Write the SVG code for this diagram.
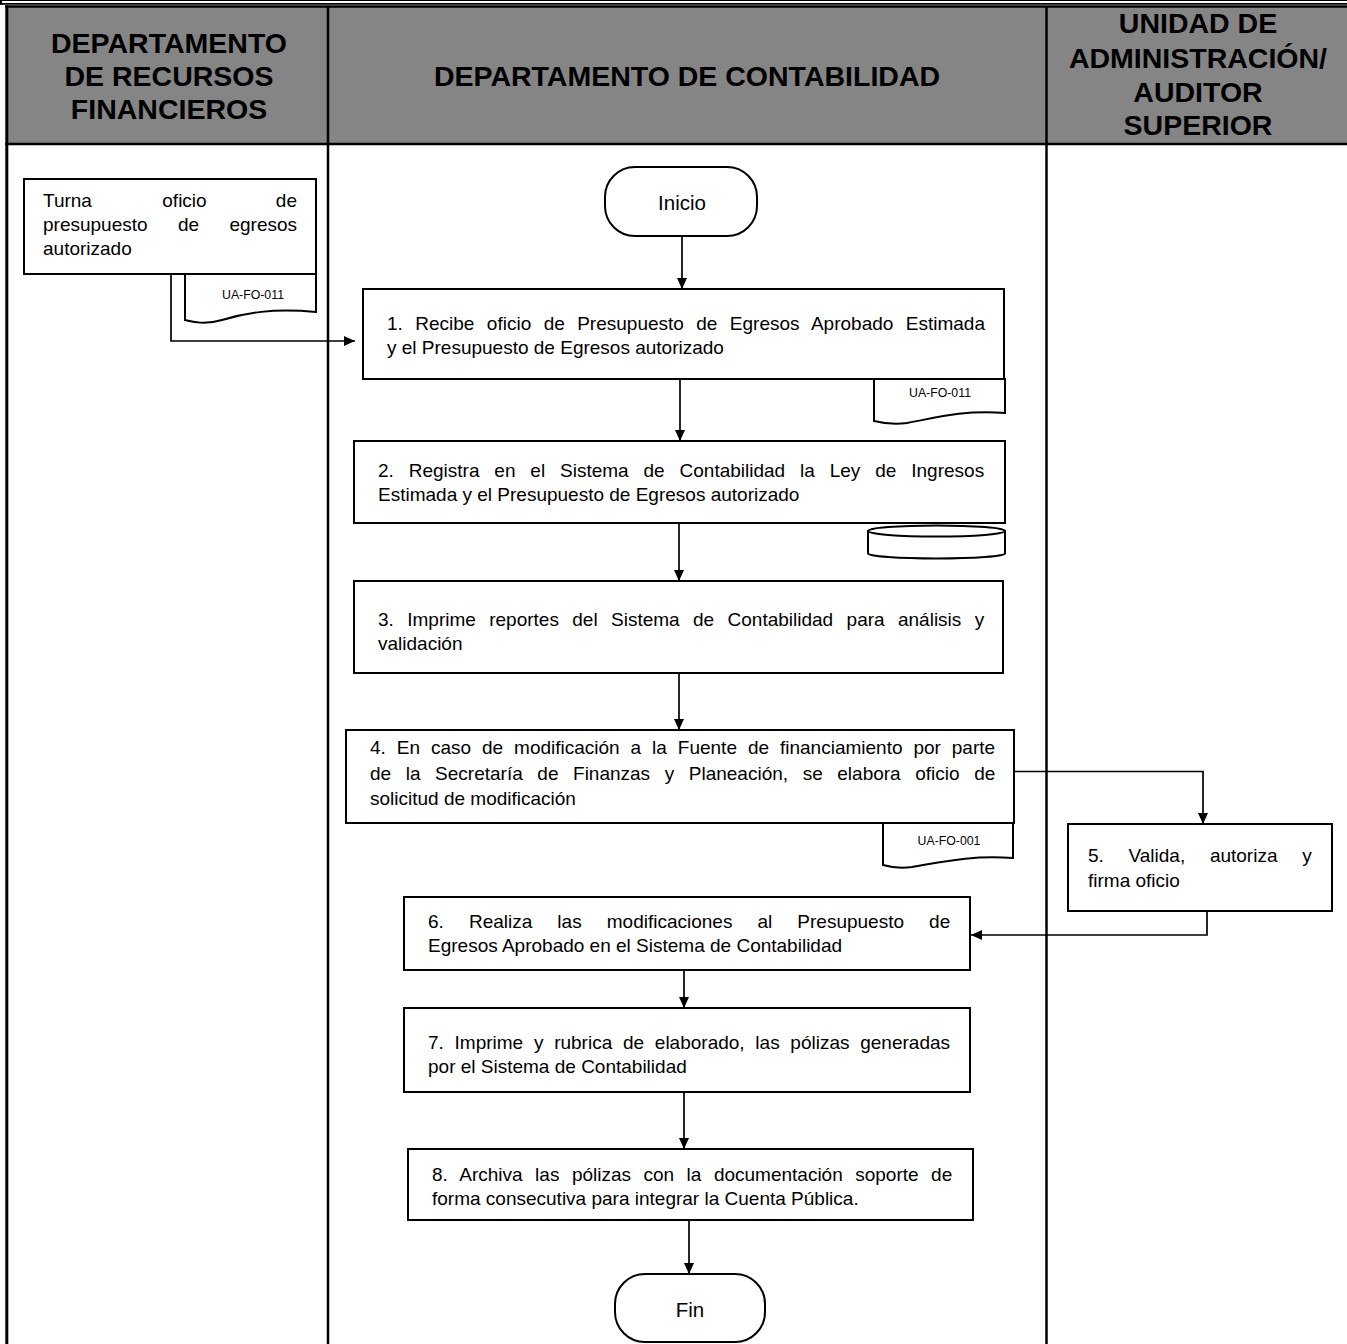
<svg xmlns="http://www.w3.org/2000/svg" width="1347" height="1344" viewBox="0 0 1347 1344">
  <defs>
    <marker id="arrow" markerUnits="userSpaceOnUse" markerWidth="11" markerHeight="10" refX="11" refY="5" orient="auto">
      <path d="M0,0 L11,5 L0,10 Z" fill="#000"/>
    </marker>
    <style>
      .lane { stroke: #000; stroke-width: 2.5; fill: none; }
      .hdrfill { fill: #858585; }
      .hdr { font-family: "Liberation Sans", Arial, sans-serif; font-weight: bold; font-size: 28.5px; fill: #000; text-anchor: middle; }
      .box { fill: #fff; stroke: #000; stroke-width: 2; }
      .t { font-family: "Liberation Sans", Arial, sans-serif; font-size: 19px; fill: #000; }
      .term { font-family: "Liberation Sans", Arial, sans-serif; font-size: 20.5px; fill: #000; text-anchor: middle; }
      .doc { font-family: "Liberation Sans", Arial, sans-serif; font-size: 12.3px; fill: #000; text-anchor: middle; }
      .conn { fill: none; stroke: #000; stroke-width: 1.7; }
      .arr { marker-end: url(#arrow); }
    </style>
  </defs>

  <rect width="1347" height="1344" fill="#fff"/>

  <!-- page frame rules at the top -->
  <line x1="0" y1="0.5" x2="1347" y2="0.5" stroke="#000" stroke-width="1"/>
  <line x1="0" y1="3.8" x2="1347" y2="3.8" stroke="#000" stroke-width="1.8"/>
  <line x1="1" y1="0" x2="1" y2="4.5" stroke="#000" stroke-width="2"/>

  <!-- swimlane header band -->
  <g id="lanes">
    <rect class="hdrfill" x="6.5" y="6.5" width="1342" height="137.5"/>
    <line class="lane" x1="5" y1="6.5" x2="1347" y2="6.5"/>
    <line class="lane" x1="5" y1="144" x2="1347" y2="144"/>
    <line class="lane" x1="6.8" y1="5.5" x2="6.8" y2="1344" style="stroke-width:3"/>
    <line class="lane" x1="328" y1="6" x2="328" y2="1344"/>
    <line class="lane" x1="1046.5" y1="6" x2="1046.5" y2="1344"/>

    <text class="hdr" x="169" y="52.5">DEPARTAMENTO</text>
    <text class="hdr" x="169" y="85.5">DE RECURSOS</text>
    <text class="hdr" x="169" y="118.5">FINANCIEROS</text>

    <text class="hdr" x="687" y="86">DEPARTAMENTO DE CONTABILIDAD</text>

    <text class="hdr" x="1198" y="33.3">UNIDAD DE</text>
    <text class="hdr" x="1198" y="68.3">ADMINISTRACIÓN/</text>
    <text class="hdr" x="1198" y="101.7">AUDITOR</text>
    <text class="hdr" x="1198" y="135">SUPERIOR</text>
  </g>

  <!-- connectors -->
  <g id="connectors">
    <path class="conn arr" d="M171,274 V341 H355"/>
    <path class="conn arr" d="M682,236 V289"/>
    <path class="conn arr" d="M680,379 V441"/>
    <path class="conn arr" d="M679,523 V581"/>
    <path class="conn arr" d="M679,673 V730"/>
    <path class="conn arr" d="M1014,771.5 H1203 V824"/>
    <path class="conn arr" d="M1207,911 V935 H971"/>
    <path class="conn arr" d="M684,970 V1008"/>
    <path class="conn arr" d="M684,1092 V1149"/>
    <path class="conn arr" d="M689,1220 V1274"/>
  </g>

  <!-- Recursos Financieros: turns the office memo -->
  <g id="turna">
    <path class="box" d="M185,274 H316 V312 C272,308 245,313 222,320 C205,325 193,322 185,320 Z"/>
    <text class="doc" x="253" y="299">UA-FO-011</text>
    <rect class="box" x="24" y="179" width="292" height="95"/>
    <text class="t" x="43" y="207"><tspan>Turna</tspan><tspan x="162.3">oficio</tspan><tspan x="297" text-anchor="end">de</tspan></text>
    <text class="t" x="43" y="231" word-spacing="25.1">presupuesto de egresos</text>
    <text class="t" x="43" y="255">autorizado</text>
  </g>

  <g id="inicio">
    <rect class="box" x="605" y="167" width="152" height="69" rx="30" ry="30"/>
    <text class="term" x="682" y="210">Inicio</text>
  </g>

  <g id="paso1">
    <path class="box" d="M874,379 H1005 V413 C960,410 935,418 907,423 C892,425 882,423 874,421 Z"/>
    <text class="doc" x="940" y="397">UA-FO-011</text>
    <rect class="box" x="363" y="289" width="641" height="90"/>
    <text class="t" x="387" y="330" word-spacing="7.15">1. Recibe oficio de Presupuesto de Egresos Aprobado Estimada</text>
    <text class="t" x="387" y="354">y el Presupuesto de Egresos autorizado</text>
  </g>

  <g id="paso2">
    <path class="box" d="M868,531 V553.5 A68.5,5 0 0 0 1005,553.5 V531"/>
    <ellipse class="box" cx="936.5" cy="531" rx="68.5" ry="5.5"/>
    <rect class="box" x="354" y="441" width="651" height="82"/>
    <text class="t" x="378" y="477" word-spacing="9.6">2. Registra en el Sistema de Contabilidad la Ley de Ingresos</text>
    <text class="t" x="378" y="501">Estimada y el Presupuesto de Egresos autorizado</text>
  </g>

  <g id="paso3">
    <rect class="box" x="354" y="581" width="649" height="92"/>
    <text class="t" x="378" y="626" word-spacing="8.1">3. Imprime reportes del Sistema de Contabilidad para análisis y</text>
    <text class="t" x="378" y="650">validación</text>
  </g>

  <g id="paso4">
    <path class="box" d="M883,823 H1013 V858 C970,855 942,862 912,867 C898,869 890,867 883,865 Z"/>
    <text class="doc" x="949" y="845">UA-FO-001</text>
    <rect class="box" x="346" y="730" width="668" height="93"/>
    <text class="t" x="370" y="754" word-spacing="5.65">4. En caso de modificación a la Fuente de financiamiento por parte</text>
    <text class="t" x="370" y="780" word-spacing="9.3">de la Secretaría de Finanzas y Planeación, se elabora oficio de</text>
    <text class="t" x="370" y="805">solicitud de modificación</text>
  </g>

  <g id="paso5">
    <rect class="box" x="1068" y="824" width="264" height="87"/>
    <text class="t" x="1088" y="862" word-spacing="19.4">5. Valida, autoriza y</text>
    <text class="t" x="1088" y="887">firma oficio</text>
  </g>

  <g id="paso6">
    <rect class="box" x="404" y="897" width="566" height="73"/>
    <text class="t" x="428" y="928" word-spacing="19.8">6. Realiza las modificaciones al Presupuesto de</text>
    <text class="t" x="428" y="952">Egresos Aprobado en el Sistema de Contabilidad</text>
  </g>

  <g id="paso7">
    <rect class="box" x="404" y="1008" width="566" height="84"/>
    <text class="t" x="428" y="1049" word-spacing="5.45">7. Imprime y rubrica de elaborado, las pólizas generadas</text>
    <text class="t" x="428" y="1073">por el Sistema de Contabilidad</text>
  </g>

  <g id="paso8">
    <rect class="box" x="408" y="1149" width="565" height="71"/>
    <text class="t" x="432" y="1181" word-spacing="7.2">8. Archiva las pólizas con la documentación soporte de</text>
    <text class="t" x="432" y="1205">forma consecutiva para integrar la Cuenta Pública.</text>
  </g>

  <g id="fin">
    <rect class="box" x="615" y="1274" width="150" height="68" rx="30" ry="30"/>
    <text class="term" x="690" y="1317">Fin</text>
  </g>
</svg>
